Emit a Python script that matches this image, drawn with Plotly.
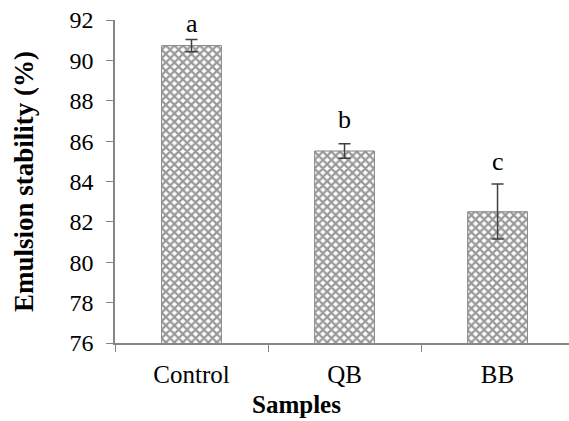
import plotly.graph_objects as go

categories = ["Control", "QB", "BB"]
values = [90.73, 85.51, 82.50]
errors_plus = [0.30, 0.36, 1.38]
errors_minus = [0.30, 0.36, 1.35]
letters = ["a", "b", "c"]
y_ticks = [76, 78, 80, 82, 84, 86, 88, 90, 92]

FONT = "'Liberation Serif', 'Times New Roman', serif"

fig = go.Figure()
fig.add_trace(go.Bar(
    x=categories,
    y=values,
    width=0.39,
    marker=dict(
        color="white",
        line=dict(color="#7f7f7f", width=1),
        pattern=dict(shape="x", fgcolor="#333333", bgcolor="white", size=6, solidity=0.6),
    ),
    error_y=dict(type="data", symmetric=False, array=errors_plus, arrayminus=errors_minus,
                 color="#404040", thickness=1.5, width=6),
    showlegend=False,
))

letter_offsets = [0.78, 1.2, 1.1]
for c, v, e, l, o in zip(categories, values, errors_plus, letters, letter_offsets):
    fig.add_annotation(x=c, y=v + e + o, text=l, showarrow=False,
                       font=dict(family=FONT, size=26, color="black"))

fig.add_annotation(x=0.40, xref="paper", y=-0.19, yref="paper", yanchor="middle",
                   text="<b>Samples</b>", showarrow=False,
                   font=dict(family=FONT, size=25, color="black"))

fig.update_layout(
    width=569, height=421,
    margin=dict(l=115, r=0, t=20, b=78),
    paper_bgcolor="white", plot_bgcolor="white",
    font=dict(family=FONT, color="black"),
)

fig.update_xaxes(
    range=[-0.5, 2.467],
    showline=True, linecolor="#868686", linewidth=1.5,
    ticks="outside", tickson="boundaries", ticklen=7, tickcolor="#868686", tickwidth=1,
    tickfont=dict(family=FONT, size=25, color="black"),
    ticklabelstandoff=8,
    showgrid=False, zeroline=False,
)
fig.update_yaxes(
    range=[76, 92],
    tickvals=y_ticks,
    showline=True, linecolor="#868686", linewidth=1.5,
    ticks="outside", ticklen=7, tickcolor="#868686", tickwidth=1,
    tickfont=dict(family=FONT, size=24, color="black"),
    ticklabelstandoff=8,
    showgrid=False, zeroline=False,
    title=dict(text="<b>Emulsion stability (%)</b>", font=dict(family=FONT, size=27, color="black"),
               standoff=28),
)

fig.write_html("out.html", post_script="document.body.style.margin='0';",
               config={"displayModeBar": False})
